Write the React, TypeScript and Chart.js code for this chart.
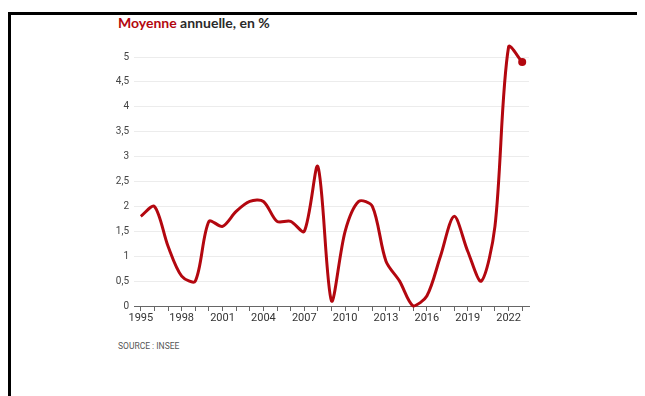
import React, { useEffect, useRef } from "react";
import { Chart, registerables } from "chart.js";

Chart.register(...registerables);

const years = [
  "1995", "1996", "1997", "1998", "1999", "2000", "2001", "2002", "2003", "2004",
  "2005", "2006", "2007", "2008", "2009", "2010", "2011", "2012", "2013", "2014",
  "2015", "2016", "2017", "2018", "2019", "2020", "2021", "2022", "2023",
];
const inflation = [
  1.8, 2.0, 1.2, 0.6, 0.5, 1.7, 1.6, 1.9, 2.1, 2.1,
  1.7, 1.7, 1.5, 2.8, 0.1, 1.5, 2.1, 2.0, 0.9, 0.5,
  0.0, 0.2, 1.0, 1.8, 1.1, 0.5, 1.6, 5.2, 4.9,
];
const yMin = 0;
const yMax = 5;
const yStep = 0.5;
const labelEvery = 3;

const RED = "#b3070f";
const FONT = "Roboto, 'Liberation Sans', sans-serif";

export default function App() {
  const ref = useRef<HTMLCanvasElement>(null);

  useEffect(() => {
    if (!ref.current) return;
    const last = inflation.length - 1;
    const chart = new Chart(ref.current, {
      type: "line",
      data: {
        labels: years,
        datasets: [
          {
            data: inflation,
            borderColor: RED,
            backgroundColor: RED,
            borderWidth: 3,
            tension: 0.3,
            clip: false as any,
            fill: false,
            pointRadius: (ctx: any) => (ctx.dataIndex === last ? 4 : 0),
            pointHoverRadius: 0,
            pointBackgroundColor: RED,
            pointBorderWidth: 0,
          },
        ],
      },
      options: {
        animation: false,
        responsive: false,
        maintainAspectRatio: false,
        layout: { padding: { top: 17, right: 11, left: 0, bottom: 0 } },
        plugins: { legend: { display: false }, tooltip: { enabled: false }, title: { display: false } },
        scales: {
          x: {
            offset: true,
            grid: { display: true, drawOnChartArea: false, drawTicks: true, tickLength: 5, color: "#666" },
            border: { display: true, color: "#666", width: 1 },
            ticks: {
              autoSkip: false,
              maxRotation: 0,
              minRotation: 0,
              padding: 1,
              color: "#333",
              font: { family: FONT, size: 11 },
              callback: (_v: any, i: number) => (i % labelEvery === 0 ? years[i] : ""),
            },
            afterFit: (s: any) => {
              s.height = 24;
            },
          },
          y: {
            min: yMin,
            max: yMax,
            ticks: {
              stepSize: yStep,
              padding: 5,
              color: "#444",
              font: { family: FONT, size: 10 },
              callback: (v: any) => String(v).replace(".", ","),
            },
            grid: { color: "#ececec", drawTicks: false },
            border: { display: false },
            afterFit: (s: any) => {
              s.width = 34;
            },
          },
        },
      },
    });
    return () => chart.destroy();
  }, []);

  return (
    <div style={{ position: "relative", height: 388, overflow: "visible" }}>
      <div
        style={{
          position: "absolute",
          left: 0,
          top: 4,
          right: -8,
          bottom: -10,
          borderTop: "3px solid #000",
          borderLeft: "3px solid #000",
        }}
      />
      <div
        style={{
          position: "absolute",
          left: 110,
          top: 6,
          fontFamily: "Lato, sans-serif",
          fontWeight: 700,
          fontSize: 14,
          color: "#2a2a2a",
          whiteSpace: "nowrap",
        }}
      >
        <span style={{ color: RED }}>Moyenne</span> annuelle, en %
      </div>
      <canvas
        ref={ref}
        width={440}
        height={290}
        style={{ position: "absolute", left: 92, top: 32, display: "block" }}
      />
      <div
        style={{
          position: "absolute",
          left: 110,
          top: 333,
          fontFamily: FONT,
          fontSize: 8.5,
          color: "#555",
          whiteSpace: "nowrap",
        }}
      >
        SOURCE : INSEE
      </div>
    </div>
  );
}
